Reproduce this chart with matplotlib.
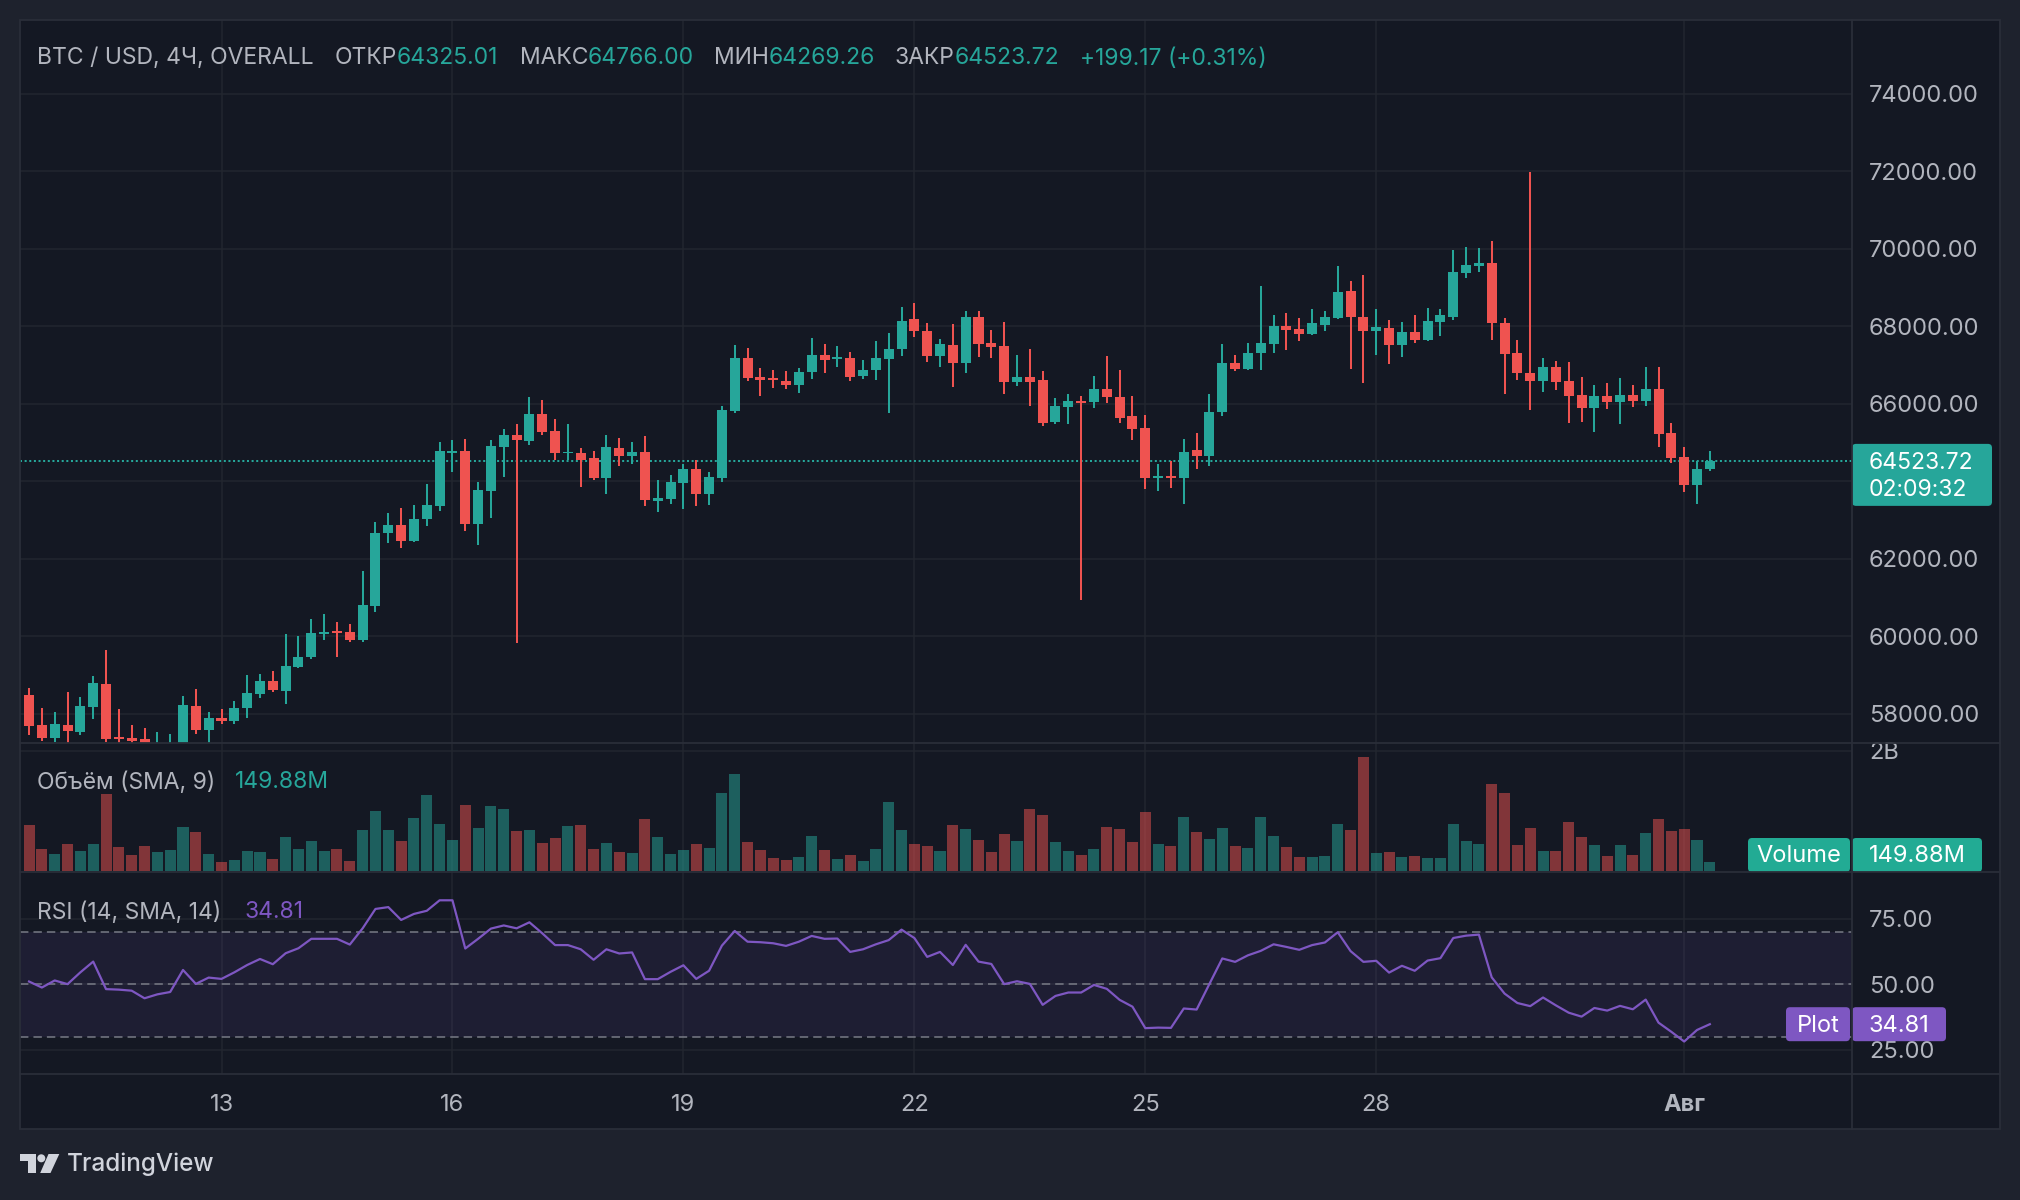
import matplotlib.pyplot as plt
import numpy as np
from matplotlib.patches import Rectangle, FancyBboxPatch, Polygon, Circle

W, H = 2020, 1200
plt.rcParams['font.family'] = ['Inter', 'DejaVu Sans']

# 4h candles, index 0 = 12 Jul 04:00
opens = [58475, 57699, 57371, 57699, 57527, 58173, 58759, 57389, 57363, 57337,
         57000, 57050, 57100, 58190, 57570, 57880, 57803, 58138, 58500, 58837,
         58578, 59199, 59457, 60052, 60130, 60104, 59897, 60776, 62664, 62871,
         62457, 63026, 63362, 64733, 64785, 62897, 63750, 64888, 65198, 65043,
         65741, 65302, 64715, 64733, 64604, 64086, 64862, 64655, 64759, 63500,
         63543, 63957, 64319, 63672, 64086, 65819, 67189, 66698, 66655, 66595,
         66491, 66827, 67267, 67164, 67189, 66724, 66879, 67164, 67422, 68198,
         67888, 67241, 67526, 67060, 68250, 67578, 67500, 66569, 66698, 66621,
         65535, 65922, 66077, 66052, 66388, 66181, 65690, 65379, 64069, 64138,
         64086, 64810, 64655, 65793, 67060, 66905, 67319, 67552, 68017, 67939,
         67810, 68043, 68224, 68896, 68250, 67888, 67965, 67526, 67862, 67655,
         68121, 68250, 69362, 69543, 69620, 68095, 67319, 66802, 66595, 66957,
         66595, 66233, 65897, 66207, 66052, 66233, 66078, 66388, 65250, 64629,
         63905, 64325.01]
highs = [58656, 58138, 58035, 58552, 58423, 58966, 59638, 58112, 57699, 57621,
         57518, 57466, 58449, 58630, 58035, 58112, 58320, 58992, 59018, 59096,
         60052, 60000, 60440, 60569, 60362, 60311, 61681, 62948, 63181, 63310,
         63388, 63931, 65017, 65069, 65095, 63983, 65069, 65353, 65483, 66181,
         66103, 65612, 65483, 64862, 64785, 65198, 65121, 65017, 65172, 64035,
         64164, 64448, 64552, 64241, 65948, 67526, 67448, 66931, 66879, 66853,
         66931, 67707, 67552, 67500, 67345, 67138, 67629, 67836, 68483, 68586,
         68095, 67681, 68069, 68405, 68405, 67914, 68121, 67267, 67422, 66853,
         66155, 66258, 66207, 66724, 67241, 66879, 66207, 65715, 64448, 64526,
         65095, 65250, 66259, 67552, 67267, 67577, 69026, 68276, 68353, 68224,
         68431, 68405, 69543, 69155, 69310, 68431, 68172, 68121, 68276, 68457,
         68431, 69957, 70034, 70008, 70189, 68224, 67655, 71980, 67190, 67112,
         67086, 66698, 66491, 66543, 66672, 66491, 66957, 66957, 65509, 64888,
         64526, 64766.00]
lows = [57440, 57294, 57268, 57200, 57449, 57863, 57268, 57200, 57200, 57100,
        56900, 56950, 57000, 57466, 57250, 57725, 57725, 57880, 58397, 58552,
        58242, 59173, 59405, 59897, 59457, 59845, 59845, 60621, 62405, 62276,
        62431, 62845, 63233, 64241, 62716, 62353, 63052, 64112, 59819, 64940,
        65198, 64552, 64552, 63854, 64035, 63673, 64397, 64448, 63362, 63207,
        63414, 63285, 63362, 63388, 63983, 65767, 66595, 66207, 66414, 66388,
        66284, 66646, 66802, 66957, 66595, 66646, 66621, 65767, 67241, 67733,
        67086, 66957, 66440, 66802, 67216, 67190, 66259, 66465, 65948, 65431,
        65483, 65483, 60931, 65896, 66026, 65509, 65069, 63802, 63750, 63828,
        63414, 64319, 64397, 65690, 66853, 66879, 66879, 67319, 67397, 67629,
        67784, 67888, 68198, 66905, 66543, 67267, 67034, 67216, 67577, 67629,
        67759, 68172, 69233, 69388, 67655, 66259, 66620, 65845, 66310, 66362,
        65509, 65534, 65276, 65870, 65483, 65922, 65948, 64888, 64474, 63724,
        63414, 64269.26]
closes = [57682, 57371, 57725, 57552, 58190, 58785, 57346, 57346, 57294, 57200,
          57150, 57200, 58216, 57570, 57880, 57811, 58138, 58526, 58837, 58604,
          59225, 59457, 60078, 60104, 60069, 59897, 60802, 62664, 62871, 62457,
          63026, 63388, 64785, 64785, 62897, 63776, 64914, 65198, 65069, 65741,
          65276, 64715, 64759, 64552, 64086, 64888, 64655, 64759, 63517, 63569,
          63983, 64319, 63672, 64112, 65845, 67189, 66672, 66621, 66603, 66491,
          66827, 67267, 67138, 67215, 66698, 66879, 67189, 67422, 68146, 67888,
          67241, 67552, 67060, 68250, 67552, 67474, 66569, 66698, 66569, 65509,
          65948, 66077, 66026, 66388, 66181, 65638, 65353, 64086, 64138, 64069,
          64759, 64655, 65793, 67060, 66905, 67319, 67577, 68017, 67914, 67810,
          68095, 68250, 68870, 68250, 67888, 67991, 67526, 67862, 67655, 68146,
          68276, 69388, 69569, 69620, 68095, 67293, 66802, 66595, 66957, 66569,
          66207, 65897, 66207, 66052, 66233, 66078, 66388, 65224, 64603, 63905,
          64324.55, 64523.72]
# volume in millions
volumes_m = [765, 366, 283, 449, 332, 449, 1280, 399, 266, 416,
             316, 349, 731, 648, 283, 150, 183, 332, 316, 199,
             565, 366, 499, 332, 366, 166, 682, 997, 682, 499,
             881, 1263, 781, 515, 1097, 715, 1080, 1031, 665, 682,
             465, 549, 748, 765, 366, 465, 316, 299, 864, 565,
             283, 349, 449, 382, 1297, 1612, 482, 349, 216, 183,
             233, 582, 349, 199, 266, 166, 366, 1147, 682, 449,
             416, 332, 765, 698, 515, 316, 615, 499, 1031, 931,
             482, 332, 266, 366, 731, 698, 482, 981, 449, 416,
             898, 648, 532, 715, 416, 382, 898, 582, 399, 233,
             233, 249, 781, 682, 1895, 299, 316, 233, 249, 216,
             216, 781, 499, 449, 1446, 1297, 432, 715, 332, 332,
             815, 565, 432, 249, 432, 266, 632, 864, 665, 698,
             515, 149.88]
rsi = [51.1, 48.8, 51.5, 50.1, 54.6, 58.7, 48.2, 48.0, 47.6, 44.7,
       46.2, 47.1, 55.5, 50.2, 52.6, 52.1, 54.6, 57.4, 59.7, 57.7,
       61.9, 63.8, 67.4, 67.4, 67.4, 65.2, 71.4, 78.8, 79.5, 74.6,
       76.9, 78.1, 82.1, 82.1, 63.7, 67.4, 71.3, 72.5, 71.4, 73.7,
       69.5, 65.0, 65.0, 63.4, 59.4, 63.4, 61.8, 62.2, 52.0, 52.0,
       54.8, 57.3, 52.1, 55.2, 64.8, 70.4, 66.3, 66.1, 65.7, 64.7,
       66.3, 68.5, 67.4, 67.5, 62.4, 63.4, 65.3, 66.9, 70.9, 67.7,
       60.5, 62.4, 57.4, 65.1, 58.7, 57.8, 50.1, 51.2, 50.2, 42.2,
       45.6, 46.9, 46.9, 49.8, 48.3, 44.1, 41.5, 33.3, 33.5, 33.4,
       40.8, 40.4, 50.2, 59.9, 58.6, 61.1, 62.8, 65.3, 64.3, 63.2,
       65.0, 66.0, 69.9, 62.7, 58.6, 59.0, 54.5, 57.1, 55.2, 59.1,
       60.0, 67.7, 68.6, 69.0, 52.7, 46.5, 42.9, 41.7, 45.0, 42.0,
       39.2, 37.7, 41.0, 40.0, 41.8, 40.5, 44.2, 35.4, 31.9, 28.2,
       32.6, 34.81]

date_idx = [15, 33, 51, 69, 87, 105, 129]
date_labels = ['13', '16', '19', '22', '25', '28', 'Авг']
price_ticks = [58000, 60000, 62000, 64000, 66000, 68000, 70000, 72000, 74000]
rsi_ticks = [25, 50, 75]
rsi_levels = [30, 50, 70]
countdown = '02:09:32'

UP, DOWN = '#26a69a', '#ef5350'
PURPLE = '#7e57c2'
BG_OUT, BG_IN = '#1e222d', '#141823'
GRID, SEP = '#22262f', '#2a2e39'
TXT = '#b2b5be'

o = np.array(opens); h = np.array(highs); l = np.array(lows); c = np.array(closes)
x = np.arange(len(c))
up = c >= o
col = np.where(up, UP, DOWN)


def rect(x0, y0, x1, y1):
    return [x0 / W, 1 - y1 / H, (x1 - x0) / W, (y1 - y0) / H]


fig = plt.figure(figsize=(W / 100, H / 100), dpi=100, facecolor=BG_OUT)
ax_bg = fig.add_axes(rect(20, 20, 2000, 1129), zorder=-5)
ax_bg.set_facecolor(BG_IN)
ax_bg.set_xticks([]); ax_bg.set_yticks([])
for s in ax_bg.spines.values():
    s.set_visible(False)

ax_main = fig.add_axes(rect(20, 20, 1852, 743))
ax_vol = fig.add_axes(rect(20, 743, 1852, 872))
ax_rsi = fig.add_axes(rect(20, 872, 1852, 1074))

xlim = (-0.705, 142.08)
for ax in (ax_main, ax_vol, ax_rsi):
    ax.set_facecolor('none')
    ax.set_xlim(*xlim)
    for s in ax.spines.values():
        s.set_visible(False)
    ax.yaxis.tick_right()
    ax.set_xticks(date_idx)
    ax.tick_params(length=0, labelsize=17, labelcolor=TXT, pad=12.2)
    ax.grid(True, color=GRID, lw=1.1)
    ax.set_axisbelow(True)

# main pane: candles
ax_main.set_ylim(57242, 75903)
ax_main.set_yticks(price_ticks)
ax_main.set_yticklabels([f'{p:.2f}' for p in price_ticks])
ax_main.tick_params(axis='x', labelbottom=False)
ax_main.vlines(x, l, h, colors=col, lw=1.45, zorder=2)
body_h = np.maximum(np.abs(c - o), 45)
ax_main.bar(x, body_h, bottom=np.minimum(o, c), width=0.78, color=col, lw=0, zorder=3)
ax_main.axhline(c[-1], color=UP, lw=1.45, dashes=(1, 1.3), zorder=1)

# volume pane
vol = np.array(volumes_m) * 1e6
ax_vol.set_ylim(-0.017e9, 2.128e9)
ax_vol.set_yticks([2e9])
ax_vol.set_yticklabels(['2B'])
ax_vol.tick_params(axis='x', labelbottom=False)
ax_vol.bar(x, vol, width=0.86, color=col, alpha=0.5, lw=0, zorder=2)

# rsi pane
ax_rsi.set_ylim(15.8, 92.9)
ax_rsi.set_yticks(rsi_ticks)
ax_rsi.set_yticklabels([f'{v:.2f}' for v in rsi_ticks])
ax_rsi.axhspan(rsi_levels[0], rsi_levels[-1], color=PURPLE, alpha=0.1, lw=0, zorder=1)
for lv in rsi_levels:
    ax_rsi.axhline(lv, color='#787b86', lw=1.1, dashes=(5.5, 3.3), zorder=2)
ax_rsi.plot(x, rsi, color=PURPLE, lw=1.6, zorder=3)
ax_rsi.set_xticklabels(date_labels)
ax_rsi.tick_params(axis='x', pad=14.5)
ax_rsi.get_xticklabels()[-1].set_fontweight('bold')

# overlay in pixel coordinates
ov = fig.add_axes([0, 0, 1, 1], zorder=10)
ov.set_xlim(0, W); ov.set_ylim(H, 0)
ov.set_axis_off()
ov.patch.set_visible(False)

for yy in (743, 872, 1074):
    ov.plot([20, 2000], [yy, yy], color=SEP, lw=1.3)
ov.plot([1852, 1852], [20, 1129], color=SEP, lw=1.3)
ov.add_patch(Rectangle((20, 20), 1980, 1109, fill=False, ec=SEP, lw=1.3))


def ypx(ax, v):
    return H - ax.transData.transform((0, v))[1]


def box(x0, x1, yc, hh, color):
    ov.add_patch(FancyBboxPatch((x0, yc - hh / 2), x1 - x0, hh,
                                boxstyle='round,pad=0,rounding_size=4',
                                fc=color, ec='none'))


# header
hy = 58.5
fs = 16.5
chg = c[-1] - c[-2]
header = [(37, 'BTC / USD, 4Ч, OVERALL', TXT),
          (335, 'ОТКР', TXT), (397, f'{o[-1]:.2f}', UP),
          (520, 'МАКС', TXT), (588, f'{h[-1]:.2f}', UP),
          (714, 'МИН', TXT), (769, f'{l[-1]:.2f}', UP),
          (895, 'ЗАКР', TXT), (955, f'{c[-1]:.2f}', UP),
          (1080, f'{chg:+.2f} ({chg / c[-2] * 100:+.2f}%)', UP)]
for xx, t, cc in header:
    ov.text(xx, hy, t, color=cc, fontsize=fs, va='center', ha='left')

# legends
ov.text(37, 782.5, 'Объём (SMA, 9)', color=TXT, fontsize=fs, va='center')
ov.text(235, 782.5, f'{volumes_m[-1]:.2f}M', color=UP, fontsize=fs, va='center')
ov.text(37, 912.5, 'RSI (14, SMA, 14)', color=TXT, fontsize=fs, va='center')
ov.text(245, 912.5, f'{rsi[-1]:.2f}', color=PURPLE, fontsize=fs, va='center')

# last price label (covers the price tick label behind it)
yp = ypx(ax_main, c[-1])
box_top, box_bot = yp - 17, yp + 45
for p, lab in zip(price_ticks, ax_main.get_yticklabels()):
    if box_top - 12 < ypx(ax_main, p) < box_bot + 12:
        lab.set_visible(False)
ov.add_patch(FancyBboxPatch((1852, box_top), 140, box_bot - box_top,
                            boxstyle='round,pad=0,rounding_size=4', fc=UP, ec='none'))
ov.text(1869, yp - 9, f'{c[-1]:.2f}\n{countdown}', color='white', fontsize=16.5,
        va='top', linespacing=1.3)

# volume label
yv = min(ypx(ax_vol, vol[-1]), 872 - 17)
box(1748, 1850, yv, 34, '#22ab94')
box(1852, 1982, yv, 34, '#22ab94')
ov.text(1799, yv + 1.5, 'Volume', color='white', fontsize=17, va='center', ha='center')
ov.text(1869, yv + 1.5, f'{volumes_m[-1]:.2f}M', color='white', fontsize=17, va='center')

# rsi label
yr = ypx(ax_rsi, rsi[-1])
box(1786, 1850, yr, 34, PURPLE)
box(1852, 1946, yr, 34, PURPLE)
ov.text(1818, yr + 1.5, 'Plot', color='white', fontsize=17, va='center', ha='center')
ov.text(1869, yr + 1.5, f'{rsi[-1]:.2f}', color='white', fontsize=17, va='center')

# logo
LOGO = '#d1d4dc'
ov.add_patch(Polygon([(20, 1154), (36, 1154), (36, 1173), (28, 1173), (28, 1161), (20, 1161)],
                     closed=True, fc=LOGO, ec='none'))
ov.add_patch(Circle((41.3, 1158.3), 4.0, fc=LOGO, ec='none'))
ov.add_patch(Polygon([(48.5, 1154), (59.3, 1154), (50.5, 1173), (40.2, 1173)],
                     closed=True, fc=LOGO, ec='none'))
ov.text(67, 1164, 'TradingView', color=LOGO, fontsize=17.5, fontweight='medium', va='center')

fig.savefig('out.png', dpi=100, facecolor=BG_OUT)
